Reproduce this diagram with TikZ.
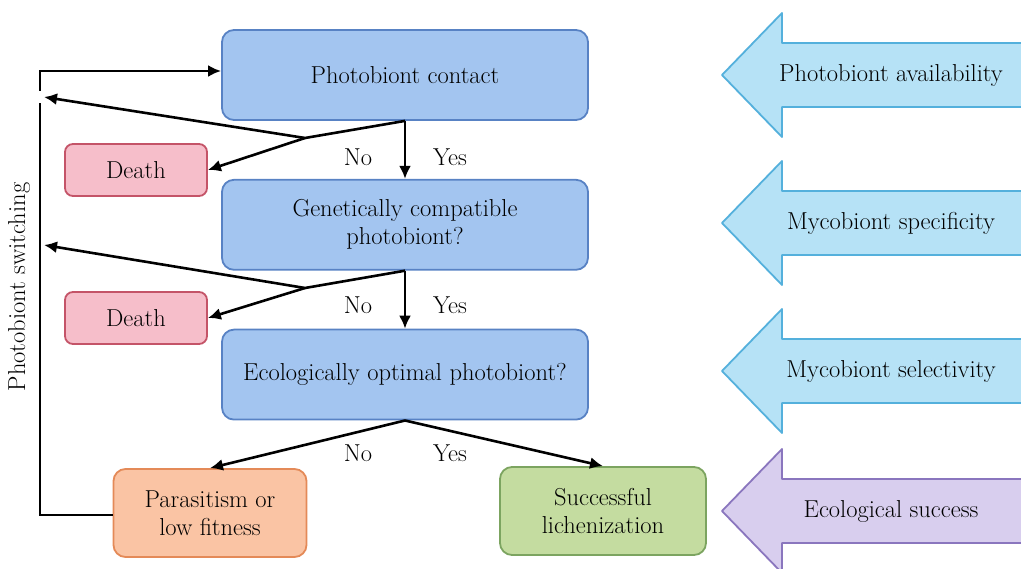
\documentclass[tikz,border=0pt]{standalone}
\usetikzlibrary{shapes,arrows.meta,positioning,calc}
\definecolor{stepfill}{RGB}{163,197,240}
\definecolor{stepdraw}{RGB}{88,130,196}
\definecolor{deathfill}{RGB}{246,190,202}
\definecolor{deathdraw}{RGB}{196,84,104}
\definecolor{parafill}{RGB}{250,196,164}
\definecolor{paradraw}{RGB}{228,138,88}
\definecolor{succfill}{RGB}{196,220,160}
\definecolor{succdraw}{RGB}{124,164,96}
\definecolor{factfill}{RGB}{182,226,246}
\definecolor{factdraw}{RGB}{84,176,220}
\definecolor{ecofill}{RGB}{216,206,238}
\definecolor{ecodraw}{RGB}{138,118,190}
\tikzstyle{line} = [draw, line width=2.6pt, -{Latex[length=13pt,width=12pt]}]
\tikzstyle{plain} = [draw, line width=2.6pt]
\tikzstyle{stepbox} = [rectangle, draw=stepdraw, fill=stepfill, line width=1.8pt, rounded corners=12pt, minimum width=366pt, minimum height=90pt, align=center, font=\fontsize{24.5}{28}\selectfont]
\tikzstyle{deathbox} = [rectangle, draw=deathdraw, fill=deathfill, line width=1.8pt, rounded corners=8pt, minimum width=142pt, minimum height=52pt, font=\fontsize{24.5}{28}\selectfont]
\tikzstyle{endbox} = [rectangle, line width=1.8pt, rounded corners=12pt, minimum height=88pt, align=center, font=\fontsize{24.5}{28}\selectfont]
\tikzstyle{factor} = [draw=factdraw, fill=factfill, line width=1.8pt, line join=round]
\tikzstyle{answer} = [font=\fontsize{24.5}{28}\selectfont]
% left pointing block arrow, tip at x=722, centred on #1
\newcommand{\factorshape}[2]{%
	\path [factor, #2] (722,#1) -- ++(60,-62) -- ++(0,30) -- ++(260,0) -- ++(0,64) -- ++(-260,0) -- ++(0,30) -- cycle;}

\begin{document}
\begin{tikzpicture}[x=1pt, y=-1pt]
		\useasboundingbox (0,0) rectangle (1021,569);
		\clip (0,0) rectangle (1021,569);
		
		\node[stepbox] (contact) at (405,75) {Photobiont contact};
		\node[stepbox, below=58pt of contact] (compat) {Genetically compatible\\photobiont?};
		\node[stepbox, below=58pt of compat] (optimal) {Ecologically optimal photobiont?};
		
		\node[deathbox] (death1) at (136,170) {Death};
		\node[deathbox] (death2) at (136,318) {Death};
		
		\node[endbox, draw=paradraw, fill=parafill, minimum width=193pt] (parasit) at (210,513) {Parasitism or\\low fitness};
		\node[endbox, draw=succdraw, fill=succfill, minimum width=206pt] (success) at (603,511) {Successful\\lichenization};
		
		% factors on the right
		\factorshape{75}{}
		\factorshape{223}{}
		\factorshape{371}{}
		\factorshape{511}{draw=ecodraw, fill=ecofill}
		\node[answer] (avail) at (891,75) {Photobiont availability};
		\node[answer] (specif) at (891,223) {Mycobiont specificity};
		\node[answer] (select) at (891,371) {Mycobiont selectivity};
		\node[answer] (ecosucc) at (891,511) {Ecological success};
		
		% answers
		\node[answer] (no1) at (358,157) {No};
		\node[answer] (yes1) at (450,157) {Yes};
		\node[answer] (no2) at (358,305) {No};
		\node[answer] (yes2) at (450,305) {Yes};
		\node[answer] (no3) at (358,453) {No};
		\node[answer] (yes3) at (450,453) {Yes};
		
		% switching loop
		\coordinate (split1) at (305,138);
		\coordinate (split2) at (305,288);
		\coordinate (back1) at (44,97);
		\coordinate (back2) at (44,245);
		\coordinate (swtop) at (40,103);
		\coordinate (swstart) at (40,91);
		\node[answer, rotate=90] (switch) at (19,287) {Photobiont switching};
		
		\path [line] (contact.south) to (compat.north);
		\path [plain] (contact.south) to (split1);
		\path [line] (split1) to (back1);
		\path [line] (split1) to (death1.east);
		
		\path [line] (compat.south) to (optimal.north);
		\path [plain] (compat.south) to (split2);
		\path [line] (split2) to (back2);
		\path [line] (split2) to (death2.east);
		
		\path [line] (optimal.south) to (parasit.north);
		\path [line] (optimal.south) to (success.north);
		
		\path [plain] ([yshift=-2pt]parasit.west) -| (swtop);
		\path [line] (swstart) |- ([yshift=4pt]contact.west);
		
		\end{tikzpicture}
\end{document}
